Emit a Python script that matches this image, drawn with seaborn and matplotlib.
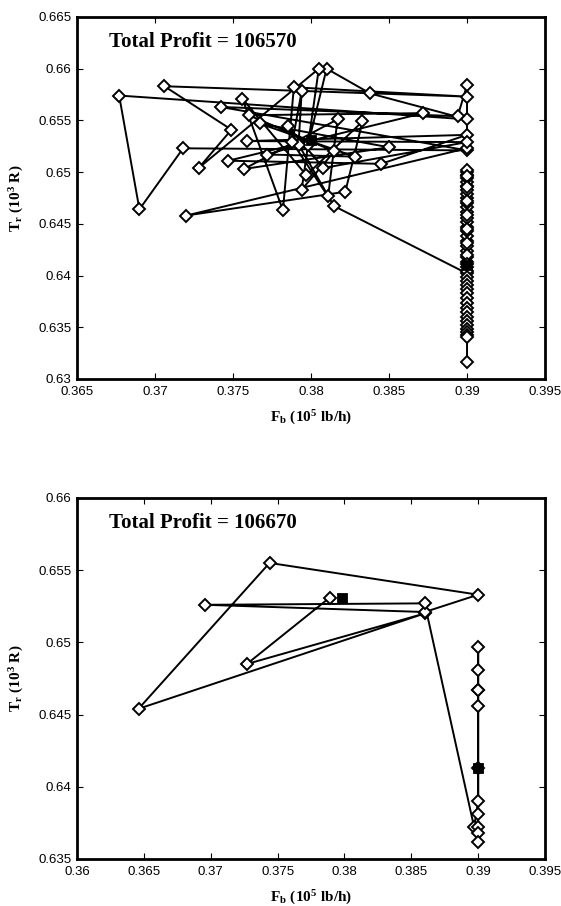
import numpy as np
import pandas as pd
import seaborn as sns
import matplotlib.pyplot as plt
from matplotlib.ticker import FuncFormatter

# ---- data ------------------------------------------------------------------

# top panel: trajectory (Fb, Tr) - scattered part first, then the Fb = 0.39 column
fb_top = [0.3798, 0.3810, 0.3838, 0.3900, 0.3677, 0.3690, 0.3718, 0.3900,
          0.3742, 0.3894, 0.3900, 0.3900, 0.3720, 0.3822, 0.3833, 0.3797,
          0.3756, 0.3782, 0.3789, 0.3900, 0.3706, 0.3749, 0.3728, 0.3805,
          0.3794, 0.3815, 0.3760, 0.3872, 0.3747, 0.3845, 0.3900, 0.3759,
          0.3900, 0.3808, 0.3785, 0.3811, 0.3817, 0.3757, 0.3850, 0.3767,
          0.3828, 0.3772, 0.3792, 0.3794, 0.3788, 0.3815]
tr_top = [0.6526, 0.6600, 0.6576, 0.6551, 0.6574, 0.6464, 0.6523, 0.6521,
          0.6563, 0.6554, 0.6584, 0.6523, 0.6458, 0.6481, 0.6549, 0.6497,
          0.6571, 0.6463, 0.6582, 0.6573, 0.6583, 0.6541, 0.6504, 0.6600,
          0.6483, 0.6520, 0.6555, 0.6557, 0.6511, 0.6508, 0.6536, 0.6530,
          0.6529, 0.6504, 0.6545, 0.6477, 0.6551, 0.6503, 0.6524, 0.6547,
          0.6515, 0.6517, 0.6526, 0.6578, 0.6529, 0.6467]
tr_top_col = [0.6402, 0.6408, 0.6413, 0.6418, 0.6424, 0.6429, 0.6433, 0.6438,
              0.6443, 0.6447, 0.6452, 0.6456, 0.6461, 0.6466, 0.6470, 0.6475,
              0.6479, 0.6483, 0.6487, 0.6490, 0.6494, 0.6497, 0.6500, 0.6502,
              0.6496, 0.6486, 0.6472, 0.6459, 0.6445, 0.6431, 0.6420, 0.6411,
              0.6404, 0.6399, 0.6395, 0.6391, 0.6387, 0.6383, 0.6378, 0.6373,
              0.6369, 0.6365, 0.6360, 0.6356, 0.6352, 0.6348, 0.6345, 0.6343,
              0.6341, 0.6316]
fb_top_col = [0.3900] * len(tr_top_col)
fb_top = fb_top + fb_top_col
tr_top = tr_top + tr_top_col
fb_top_sq = [0.3800, 0.3900]
tr_top_sq = [0.6531, 0.6410]

# bottom panel
fb_bot = [0.3789, 0.3727, 0.3860, 0.3646, 0.3744, 0.3900, 0.3860, 0.3696,
          0.3860, 0.3897, 0.3900, 0.3900, 0.3900, 0.3900, 0.3900, 0.3900,
          0.3900, 0.3900, 0.3900, 0.3900, 0.3900]
tr_bot = [0.6531, 0.6485, 0.6520, 0.6454, 0.6555, 0.6533, 0.6521, 0.6526,
          0.6527, 0.6372, 0.6390, 0.6456, 0.6467, 0.6467, 0.6481, 0.6497,
          0.6413, 0.6381, 0.6372, 0.6368, 0.6362]
fb_bot_sq = [0.3798, 0.3900]
tr_bot_sq = [0.6531, 0.6413]

profit_top = 106570
profit_bot = 106670

xt_top = [0.365, 0.37, 0.375, 0.38, 0.385, 0.39, 0.395]
yt_top = [0.63, 0.635, 0.64, 0.645, 0.65, 0.655, 0.66, 0.665]
xt_bot = [0.36, 0.365, 0.37, 0.375, 0.38, 0.385, 0.39, 0.395]
yt_bot = [0.635, 0.64, 0.645, 0.65, 0.655, 0.66]

# ---- style ------------------------------------------------------------------
sns.set_style('ticks')
plt.rcParams['font.family'] = ['Liberation Sans', 'DejaVu Sans']
plt.rcParams['mathtext.fontset'] = 'custom'
plt.rcParams['mathtext.rm'] = 'Liberation Serif:bold'
plt.rcParams['mathtext.it'] = 'Liberation Serif:bold'
plt.rcParams['mathtext.bf'] = 'Liberation Serif:bold'
for k in ['text.color', 'axes.labelcolor', 'xtick.color', 'ytick.color']:
    plt.rcParams[k] = 'black'

fig = plt.figure(figsize=(5.61, 9.06), dpi=100)
ax1 = fig.add_axes([0.1373, 0.5817, 0.8342, 0.3996])
ax2 = fig.add_axes([0.1373, 0.0519, 0.8342, 0.3985])


def draw(ax, fb, tr, fbs, trs, profit, xt, yt):
    df = pd.DataFrame({'Fb': fb, 'Tr': tr})
    sns.lineplot(data=df, x='Fb', y='Tr', sort=False, estimator=None,
                 color='black', linewidth=1.4, marker='D', markersize=6,
                 markerfacecolor='white', markeredgecolor='black',
                 markeredgewidth=1.4, ax=ax)
    sns.scatterplot(x=fbs, y=trs, marker='s', s=55, color='black',
                    edgecolor='black', zorder=5, ax=ax)
    ax.set_xlim(xt[0], xt[-1])
    ax.set_ylim(yt[0], yt[-1])
    ax.set_xticks(xt)
    ax.set_yticks(yt)
    fmt = FuncFormatter(lambda v, p: '%g' % round(v, 4))
    ax.xaxis.set_major_formatter(fmt)
    ax.yaxis.set_major_formatter(fmt)
    ax.tick_params(direction='in', length=4, width=0.8, labelsize=9.5,
                   top=True, right=True)
    ax.tick_params(axis='x', pad=5)
    ax.tick_params(axis='y', pad=4)
    for s in ax.spines.values():
        s.set_linewidth(2)
        s.set_color('black')
    ax.set_xlabel(r'$\mathrm{F_b\ (10^5\ lb/h)}$', fontsize=11, labelpad=8)
    ax.set_ylabel(r'$\mathrm{T_r\ (10^3\ R)}$', fontsize=11, labelpad=9)
    ax.text(0.068, 0.93, 'Total Profit = %d' % profit, transform=ax.transAxes,
            fontsize=15, fontweight='bold', family='Liberation Serif',
            color='black', va='center', ha='left')


draw(ax1, fb_top, tr_top, fb_top_sq, tr_top_sq, profit_top, xt_top, yt_top)
draw(ax2, fb_bot, tr_bot, fb_bot_sq, tr_bot_sq, profit_bot, xt_bot, yt_bot)

plt.savefig('out.png', dpi=100)
